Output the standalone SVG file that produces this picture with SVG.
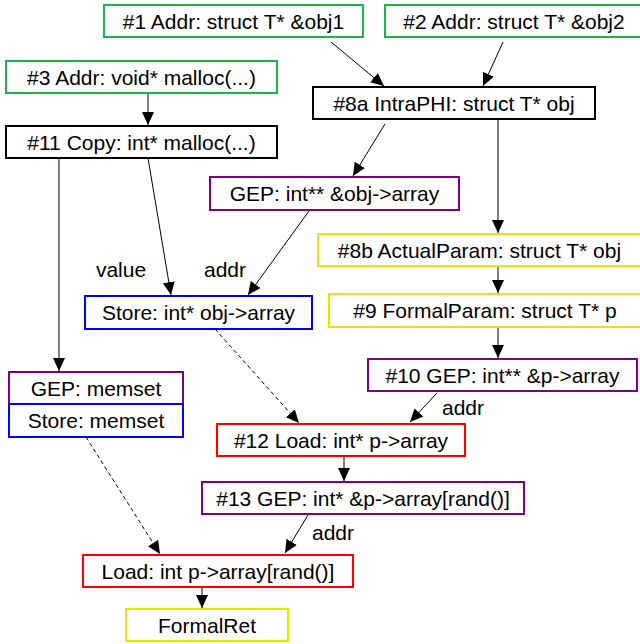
<svg xmlns="http://www.w3.org/2000/svg" width="640" height="644" viewBox="0 0 640 644">
<style>
rect{fill:#fff;stroke-width:2}
.g{stroke:#22b14c}.k{stroke:#000}.p{stroke:#800080}.y{stroke:#e6e600}.r{stroke:#ff0000}.b{stroke:#0000ff}
text{font-family:"Liberation Sans",Arial,sans-serif;font-size:21px;fill:#000;text-anchor:middle}
.e{stroke:#000;stroke-width:1;fill:none;marker-end:url(#ah)}
.d{stroke-dasharray:4,3}
</style>
<defs>
<marker id="ah" markerUnits="userSpaceOnUse" markerWidth="14" markerHeight="13" refX="13" refY="6" orient="auto">
<path d="M0,0 L13,6 L0,12 z" fill="#000"/>
</marker>
</defs>
<g id="connectors">
<line class="e" x1="331" y1="42" x2="384" y2="86"/>
<line class="e" x1="503" y1="42" x2="483" y2="86"/>
<line class="e" x1="148" y1="93" x2="148" y2="125"/>
<line class="e" x1="385" y1="124" x2="353" y2="176"/>
<line class="e" x1="498" y1="119" x2="498" y2="233"/>
<line class="e" x1="498" y1="266" x2="498" y2="293"/>
<line class="e" x1="498" y1="327" x2="498" y2="358"/>
<line class="e" x1="59" y1="158" x2="59" y2="371"/>
<line class="e" x1="148" y1="158" x2="171" y2="295"/>
<line class="e" x1="309" y1="211" x2="248" y2="295"/>
<line class="e d" x1="215" y1="329" x2="299" y2="423"/>
<line class="e d" x1="86" y1="437" x2="160" y2="554"/>
<line class="e" x1="437" y1="393" x2="410" y2="422"/>
<line class="e" x1="344" y1="456" x2="344" y2="481"/>
<line class="e" x1="308" y1="515" x2="285" y2="553"/>
<line class="e" x1="202" y1="587" x2="202" y2="608"/>
<text x="121" y="277">value</text>
<text x="225" y="277">addr</text>
<text x="463" y="415">addr</text>
<text x="333" y="540">addr</text>
</g>
<g id="n1"><rect class="g" x="104" y="5" width="259" height="32"/><text x="233.5" y="28.5">#1 Addr: struct T* &amp;obj1</text></g>
<g id="n2"><rect class="g" x="385" y="5" width="259" height="32"/><text x="514" y="28.5">#2 Addr: struct T* &amp;obj2</text></g>
<g id="n3"><rect class="g" x="6" y="61" width="271" height="32"/><text x="141.5" y="84.5">#3 Addr: void* malloc(...)</text></g>
<g id="n11"><rect class="k" x="6" y="126" width="271" height="32"/><text x="141.5" y="149.5">#11 Copy: int* malloc(...)</text></g>
<g id="n8a"><rect class="k" x="313" y="87" width="282" height="32"/><text x="454" y="110.5">#8a IntraPHI: struct T* obj</text></g>
<g id="gepobj"><rect class="p" x="210" y="177" width="249" height="33"/><text x="334.5" y="201">GEP: int** &amp;obj-&gt;array</text></g>
<g id="n8b"><rect class="y" x="318" y="234" width="323" height="32"/><text x="479.5" y="257.5">#8b ActualParam: struct T* obj</text></g>
<g id="n9"><rect class="y" x="329" y="294" width="312" height="33"/><text x="485" y="318">#9 FormalParam: struct T* p</text></g>
<g id="n10"><rect class="p" x="368" y="359" width="269" height="32"/><text x="502.5" y="382.5">#10 GEP: int** &amp;p-&gt;array</text></g>
<g id="storeobj"><rect class="b" x="85" y="296" width="227" height="33"/><text x="198.5" y="320">Store: int* obj-&gt;array</text></g>
<g id="gepmemset"><rect class="p" x="9" y="372" width="174" height="32"/><text x="96" y="395.5">GEP: memset</text></g>
<g id="storememset"><rect class="b" x="9" y="404" width="174" height="33"/><text x="96" y="428">Store: memset</text></g>
<g id="n12"><rect class="r" x="217" y="424" width="248" height="32"/><text x="341" y="447.5">#12 Load: int* p-&gt;array</text></g>
<g id="n13"><rect class="p" x="202" y="482" width="322" height="32"/><text x="363" y="505.5">#13 GEP: int* &amp;p-&gt;array[rand()]</text></g>
<g id="loadrand"><rect class="r" x="83" y="555" width="270" height="32"/><text x="218" y="578.5">Load: int p-&gt;array[rand()]</text></g>
<g id="formalret"><rect class="y" x="126" y="609" width="162" height="32"/><text x="207" y="632.5">FormalRet</text></g>
</svg>
